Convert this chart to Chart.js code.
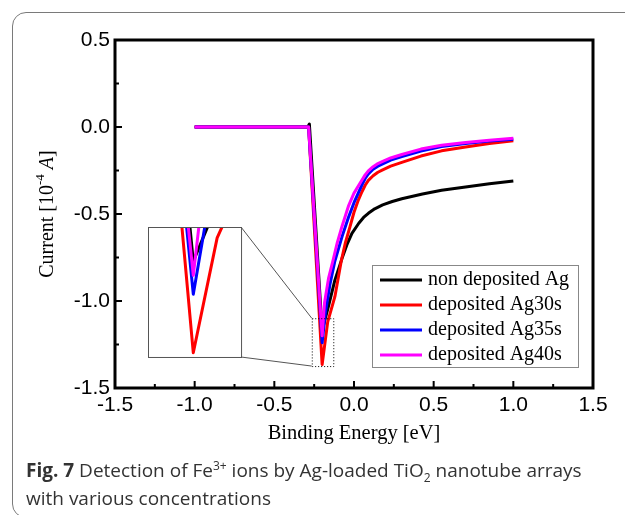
<!DOCTYPE html>
<html>
<head>
<meta charset="utf-8">
<title>Fe3+ detection</title>
<script src="https://cdn.jsdelivr.net/npm/chart.js@4.4.1/dist/chart.umd.min.js"></script>
<style>
  html, body { margin: 0; padding: 0; background: #fff; overflow: hidden; }
  body { width: 625px; height: 515px; position: relative; }
  .card { position: absolute; left: 12px; top: 12px; width: 700px; height: 506px; border: 1.5px solid #7a7a7a; border-radius: 14px; box-sizing: border-box; }
  #mainChart { position: absolute; left: 0; top: 0; }
  #insetChart { position: absolute; }
  .caption { position: absolute; left: 26px; top: 456px; width: 600px; font-family: 'Open Sans', sans-serif; font-size: 19px; line-height: 28px; color: #333; white-space: nowrap; }
  .caption b { font-weight: 700; }
  .caption sup, .caption sub { font-size: 12px; line-height: 0; }
</style>
</head>
<body>
<div class="card"></div>
<canvas id="mainChart" width="625" height="515"></canvas>
<canvas id="insetChart"></canvas>
<div class="caption"><b>Fig. 7</b> Detection of Fe<sup>3+</sup> ions by Ag-loaded TiO<sub>2</sub> nanotube arrays<br>with various concentrations</div>

<script>
// Binding energy (eV) vs current (10^-4 A) for each sample
const nonDepX = [-1.0, -0.29, -0.28, -0.20, -0.16, -0.12, -0.075, -0.045, -0.013, 0.03, 0.06, 0.09, 0.13, 0.18, 0.24, 0.30, 0.43, 0.55, 0.70, 0.85, 1.0];
const nonDepY = [0, 0, 0.017, -1.17, -1.03, -0.88, -0.755, -0.678, -0.611, -0.553, -0.52, -0.496, -0.47, -0.448, -0.428, -0.412, -0.385, -0.364, -0.345, -0.326, -0.31];

const ag30X = [-1.0, -0.285, -0.20, -0.165, -0.12, -0.08, -0.055, -0.025, 0.0, 0.025, 0.05, 0.07, 0.09, 0.12, 0.15, 0.18, 0.23, 0.30, 0.42, 0.55, 0.70, 0.85, 1.0];
const ag30Y = [0, 0, -1.365, -1.12, -0.975, -0.77, -0.668, -0.573, -0.49, -0.425, -0.372, -0.335, -0.307, -0.28, -0.26, -0.246, -0.225, -0.203, -0.167, -0.137, -0.115, -0.095, -0.079];

const ag35X = [-1.0, -0.285, -0.20, -0.18, -0.15, -0.12, -0.075, -0.035, 0.0, 0.05, 0.07, 0.09, 0.12, 0.15, 0.18, 0.23, 0.30, 0.42, 0.55, 0.70, 0.85, 1.0];
const ag35Y = [0, 0, -1.24, -1.07, -0.90, -0.77, -0.63, -0.52, -0.435, -0.333, -0.296, -0.27, -0.243, -0.225, -0.212, -0.19, -0.17, -0.138, -0.112, -0.095, -0.081, -0.071];

const ag40X = [-1.0, -0.285, -0.20, -0.185, -0.16, -0.13, -0.105, -0.075, -0.035, 0.0, 0.05, 0.07, 0.09, 0.12, 0.15, 0.18, 0.23, 0.30, 0.42, 0.55, 0.70, 0.85, 1.0];
const ag40Y = [0, 0, -1.20, -1.01, -0.87, -0.76, -0.665, -0.57, -0.455, -0.38, -0.305, -0.275, -0.252, -0.228, -0.21, -0.197, -0.178, -0.158, -0.127, -0.105, -0.089, -0.076, -0.065];

const seriesLabels = ['non deposited Ag', 'deposited Ag30s', 'deposited Ag35s', 'deposited Ag40s'];
const seriesColors = ['#000000', '#ff0000', '#0000ff', '#ff00ff'];

const xTickValues = [-1.5, -1.0, -0.5, 0.0, 0.5, 1.0, 1.5];
const yTickValues = [-1.5, -1.0, -0.5, 0.0, 0.5];

// Magnified window around the minima, and where its enlargement sits (data units)
const zoomWindow = { xMin: -0.265, xMax: -0.13, yMin: -1.374, yMax: -1.099 };
const insetPlace = { xMin: -1.293, xMax: -0.709, yMin: -1.322, yMax: -0.575 };

const SERIF = "'Liberation Serif', 'Times New Roman', serif";
const SANS = "'Liberation Sans', Arial, sans-serif";

function buildDatasets() {
    const xs = [nonDepX, ag30X, ag35X, ag40X];
    const ys = [nonDepY, ag30Y, ag35Y, ag40Y];
    return seriesLabels.map((label, i) => ({
        label: label,
        data: xs[i].map((x, j) => ({ x: x, y: ys[i][j] })),
        borderColor: seriesColors[i],
        backgroundColor: seriesColors[i],
        borderWidth: 3,
        borderJoinStyle: 'round',
        pointRadius: 0,
        tension: 0,
        fill: false,
        order: seriesLabels.length - 1 - i // later samples drawn on top
    }));
}

function midpoints(values) {
    const out = [];
    for (let i = 0; i < values.length - 1; i++) out.push((values[i] + values[i + 1]) / 2);
    return out;
}

// Box frame, inward ticks, zoom window, legend and axis titles
const decorPlugin = {
    id: 'decor',
    afterDatasetsDraw(chart) {
        const { ctx, chartArea: a, scales: { x, y } } = chart;
        ctx.save();

        // dotted zoom window + connectors to the inset
        const zl = x.getPixelForValue(zoomWindow.xMin), zr = x.getPixelForValue(zoomWindow.xMax);
        const zt = y.getPixelForValue(zoomWindow.yMax), zb = y.getPixelForValue(zoomWindow.yMin);
        ctx.strokeStyle = '#000';
        ctx.lineWidth = 1;
        ctx.setLineDash([1, 2]);
        ctx.strokeRect(zl + 0.5, zt + 0.5, zr - zl, zb - zt);
        ctx.setLineDash([]);

        const il = x.getPixelForValue(insetPlace.xMin), ir = x.getPixelForValue(insetPlace.xMax);
        const it = y.getPixelForValue(insetPlace.yMax), ib = y.getPixelForValue(insetPlace.yMin);
        ctx.strokeStyle = '#555';
        ctx.beginPath();
        ctx.moveTo(ir, it); ctx.lineTo(zl, zt);
        ctx.moveTo(ir, ib); ctx.lineTo(zl, zb);
        ctx.stroke();
        ctx.fillStyle = '#fff';
        ctx.fillRect(il, it, ir - il, ib - it);
        ctx.strokeRect(Math.round(il) + 0.5, Math.round(it) + 0.5, ir - il, ib - it);

        // frame
        ctx.strokeStyle = '#000';
        ctx.lineWidth = 3;
        ctx.strokeRect(a.left, a.top, a.right - a.left, a.bottom - a.top);

        // ticks point into the plot, bottom and left only
        ctx.lineWidth = 2;
        ctx.beginPath();
        xTickValues.forEach(v => { const px = x.getPixelForValue(v); ctx.moveTo(px, a.bottom); ctx.lineTo(px, a.bottom - 7); });
        midpoints(xTickValues).forEach(v => { const px = x.getPixelForValue(v); ctx.moveTo(px, a.bottom); ctx.lineTo(px, a.bottom - 4); });
        yTickValues.forEach(v => { const py = y.getPixelForValue(v); ctx.moveTo(a.left, py); ctx.lineTo(a.left + 7, py); });
        midpoints(yTickValues).forEach(v => { const py = y.getPixelForValue(v); ctx.moveTo(a.left, py); ctx.lineTo(a.left + 4, py); });
        ctx.stroke();
        ctx.restore();
    },
    afterDraw(chart) {
        const { ctx, chartArea: a } = chart;
        ctx.save();

        // legend
        const lx = 372, ly = 265, lw = 206, lh = 102;
        ctx.fillStyle = '#fff';
        ctx.fillRect(lx, ly, lw, lh);
        ctx.strokeStyle = '#888';
        ctx.lineWidth = 1;
        ctx.strokeRect(lx + 0.5, ly + 0.5, lw, lh);
        ctx.font = '20px ' + SERIF;
        ctx.textBaseline = 'middle';
        ctx.textAlign = 'left';
        seriesLabels.forEach((label, i) => {
            const ry = ly + 15 + i * 25;
            ctx.strokeStyle = seriesColors[i];
            ctx.lineWidth = 3;
            ctx.beginPath();
            ctx.moveTo(lx + 8, ry);
            ctx.lineTo(lx + 50, ry);
            ctx.stroke();
            ctx.fillStyle = '#000';
            ctx.fillText(label, lx + 56, ry);
        });

        // x title
        ctx.font = '20.5px ' + SERIF;
        ctx.textAlign = 'center';
        ctx.fillText('Binding Energy [eV]', (a.left + a.right) / 2, 434);

        // y title: Current [10^-4 A]
        const parts = [
            { t: 'Current [10', f: '20px ' + SERIF, dy: 0 },
            { t: '-4', f: '13px ' + SERIF, dy: -7 },
            { t: ' ', f: '20px ' + SERIF, dy: 0 },
            { t: 'A', f: 'italic 20px ' + SERIF, dy: 0 },
            { t: ']', f: '20px ' + SERIF, dy: 0 }
        ];
        let total = 0;
        parts.forEach(p => { ctx.font = p.f; p.w = ctx.measureText(p.t).width; total += p.w; });
        ctx.translate(48, (a.top + a.bottom) / 2);
        ctx.rotate(-Math.PI / 2);
        ctx.textAlign = 'left';
        let cx = -total / 2;
        parts.forEach(p => { ctx.font = p.f; ctx.fillText(p.t, cx, p.dy); cx += p.w; });
        ctx.restore();
    }
};

function tickScale(values) {
    return function(scale) {
        scale.ticks = values.map(v => ({ value: v }));
    };
}

const mainChart = new Chart(document.getElementById('mainChart'), {
    type: 'line',
    data: { datasets: buildDatasets() },
    options: {
        responsive: false,
        animation: false,
        devicePixelRatio: 1,
        layout: { padding: { top: 40, right: 32, left: 0, bottom: 0 } },
        plugins: { legend: { display: false }, tooltip: { enabled: false } },
        scales: {
            x: {
                type: 'linear', min: -1.5, max: 1.5,
                afterBuildTicks: tickScale(xTickValues),
                afterFit: (s) => { s.height = 127; },
                grid: { display: false, drawTicks: false },
                border: { display: false },
                ticks: { padding: 5, color: '#000', font: { family: SANS, size: 21 }, maxRotation: 0, callback: v => v.toFixed(1) }
            },
            y: {
                type: 'linear', min: -1.5, max: 0.5,
                afterBuildTicks: tickScale(yTickValues),
                afterFit: (s) => { s.width = 115; },
                grid: { display: false, drawTicks: false },
                border: { display: false },
                ticks: { padding: 5, color: '#000', font: { family: SANS, size: 21 }, callback: v => v.toFixed(1) }
            }
        }
    },
    plugins: [decorPlugin]
});

// Magnified view of the minima, placed over the main plot
function drawInset() {
    const x = mainChart.scales.x, y = mainChart.scales.y;
    const left = Math.round(x.getPixelForValue(insetPlace.xMin));
    const right = Math.round(x.getPixelForValue(insetPlace.xMax));
    const top = Math.round(y.getPixelForValue(insetPlace.yMax));
    const bottom = Math.round(y.getPixelForValue(insetPlace.yMin));
    const canvas = document.getElementById('insetChart');
    canvas.style.left = (left + 1) + 'px';
    canvas.style.top = (top + 1) + 'px';
    canvas.width = right - left - 1;
    canvas.height = bottom - top - 1;

    new Chart(canvas, {
        type: 'line',
        data: { datasets: buildDatasets() },
        options: {
            responsive: false,
            animation: false,
            devicePixelRatio: 1,
            layout: { padding: 0 },
            plugins: { legend: { display: false }, tooltip: { enabled: false } },
            scales: {
                x: { type: 'linear', display: false, min: zoomWindow.xMin, max: zoomWindow.xMax },
                y: { type: 'linear', display: false, min: zoomWindow.yMin, max: zoomWindow.yMax }
            }
        }
    });
}

drawInset();
</script>
</body>
</html>
